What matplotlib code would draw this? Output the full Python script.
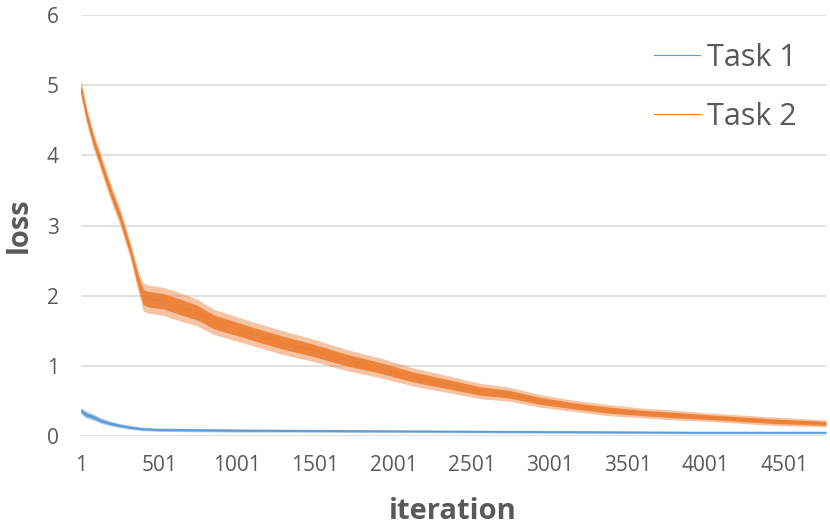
import matplotlib.pyplot as plt
import numpy as np

# Data (centre of the noisy curve and half-width of its band)
it_task1 = [1, 30, 79, 128, 187, 246, 296, 394, 508, 739, 986, 1479, 1972,
            2465, 2957, 3451, 3943, 4437, 4770]
loss_task1 = [0.36, 0.31, 0.27, 0.22, 0.18, 0.15, 0.13, 0.10, 0.09, 0.085, 0.08,
              0.075, 0.07, 0.065, 0.06, 0.055, 0.05, 0.05, 0.05]
band_task1 = [0.05, 0.05, 0.045, 0.04, 0.035, 0.03, 0.03, 0.025, 0.025, 0.025,
              0.025, 0.022, 0.02, 0.02, 0.02, 0.02, 0.02, 0.02, 0.02]

it_task2 = [1, 20, 39, 79, 123, 187, 251, 316, 365, 399, 434, 527, 636, 744, 848,
            1065, 1277, 1489, 1706, 1918, 2130, 2347, 2559, 2731, 2943, 3155,
            3372, 3589, 3796, 4013, 4225, 4437, 4770]
loss_task2 = [4.95, 4.75, 4.55, 4.22, 3.93, 3.50, 3.12, 2.65, 2.22, 1.98, 1.95,
              1.92, 1.84, 1.76, 1.63, 1.48, 1.34, 1.22, 1.08, 0.97, 0.84, 0.74,
              0.64, 0.60, 0.50, 0.43, 0.37, 0.33, 0.30, 0.27, 0.24, 0.21, 0.18]
band_task2 = [0.12, 0.12, 0.12, 0.12, 0.12, 0.12, 0.12, 0.12, 0.15, 0.20, 0.20,
              0.20, 0.20, 0.19, 0.18, 0.17, 0.17, 0.16, 0.15, 0.14, 0.13, 0.12,
              0.11, 0.10, 0.09, 0.08, 0.08, 0.07, 0.07, 0.06, 0.06, 0.06, 0.05]

xtick_pos = [1, 501, 1001, 1501, 2001, 2501, 3001, 3501, 4001, 4501]
ytick_pos = [0, 1, 2, 3, 4, 5, 6]

blue = '#5B9BD5'
orange = '#ED7D31'
grey = '#595959'

plt.rcParams['font.family'] = ['Open Sans', 'DejaVu Sans']

fig = plt.figure(figsize=(8.3, 5.27), dpi=100)
ax = fig.add_axes([81 / 830, 1 - 436 / 527, 745 / 830, 421 / 527])

for its, loss, band, col, lab in [(it_task1, loss_task1, band_task1, blue, 'Task 1'),
                                  (it_task2, loss_task2, band_task2, orange, 'Task 2')]:
    its = np.array(its)
    loss = np.array(loss)
    band = np.array(band)
    ax.fill_between(its, loss - band, loss + band, color=col, alpha=0.45, lw=0)
    ax.fill_between(its, loss - band * 0.55, loss + band * 0.55, color=col, alpha=0.9, lw=0)
    ax.plot(its, loss, color=col, lw=0.8, label=lab)

ax.set_xlim(1, 4770)
ax.set_ylim(0, 6)
ax.set_xticks(xtick_pos)
ax.set_yticks(ytick_pos)
ax.tick_params(axis='both', length=0, labelsize=15, colors=grey)
ax.tick_params(axis='x', pad=14)
ax.tick_params(axis='y', pad=16)
ax.grid(axis='y', color='#D9D9D9', lw=1.1)
ax.set_axisbelow(True)
for s in ax.spines.values():
    s.set_visible(False)

ax.set_xlabel('iteration', fontsize=21, fontweight='bold', color=grey)
ax.xaxis.set_label_coords(0.4993, -0.18)
ax.xaxis.label.set_va('center')
ax.set_ylabel('loss', fontsize=21, fontweight='bold', color=grey)
ax.yaxis.set_label_coords(-0.083, 0.5)
ax.yaxis.label.set_va('center')

leg = ax.legend(loc='upper left', bbox_to_anchor=(654 / 830, 1 - 43 / 527),
                bbox_transform=fig.transFigure, frameon=False, fontsize=22,
                handlelength=1.5, handletextpad=0.25, labelspacing=0.95,
                borderpad=0, borderaxespad=0)
for t in leg.get_texts():
    t.set_color(grey)

fig.savefig('out.png', dpi=100)
